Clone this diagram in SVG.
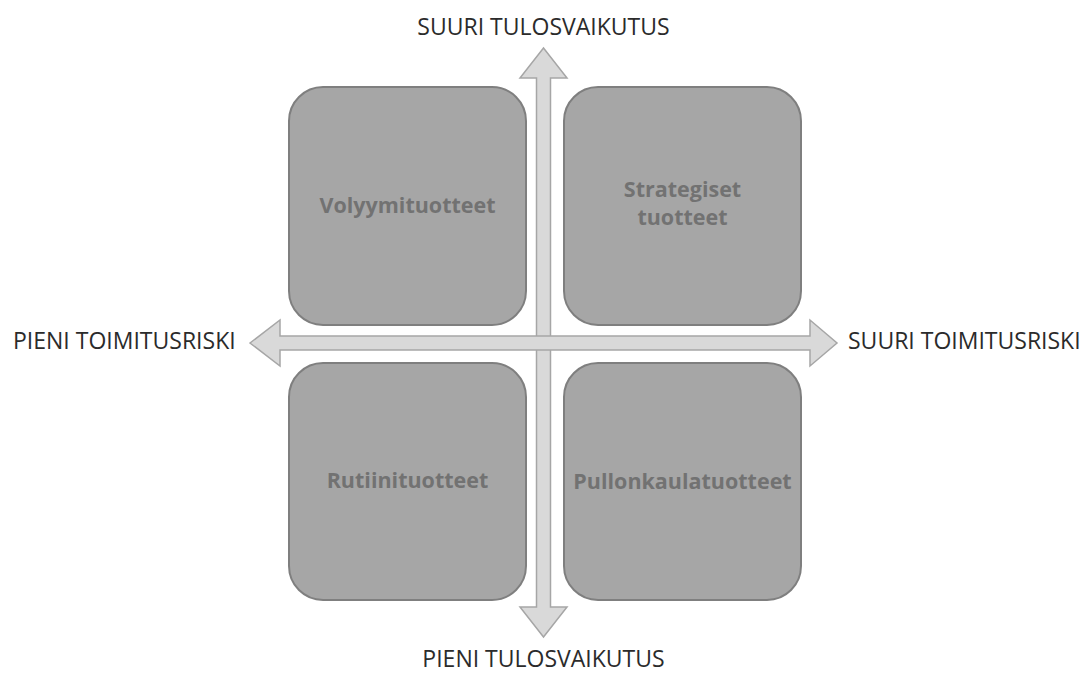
<svg xmlns="http://www.w3.org/2000/svg" width="1090" height="675" viewBox="0 0 1090 675">
  <style>
    .axis-label { font-family: "Open Sans", "Liberation Sans", sans-serif; font-size: 23px; fill: #2b2b2b; }
    .box { fill: #a6a6a6; stroke: #7f7f7f; stroke-width: 2; }
    .box-label { font-family: "Open Sans", "Liberation Sans", sans-serif; font-size: 21.5px; font-weight: bold; fill: #727272; text-anchor: middle; }
    .arrow { fill: #d9d9d9; stroke: #a6a6a6; stroke-width: 1.5; stroke-linejoin: miter; }
  </style>
  <rect width="1090" height="675" fill="#ffffff"/>

  <!-- axes: double-headed block arrows -->
  <g id="connectors">
    <path class="arrow" d="M543.5,48 L567,78 L550.5,78 L550.5,607 L567,607 L543.5,637 L520,607 L536.5,607 L536.5,78 L520,78 Z"/>
    <path class="arrow" d="M250,343 L280,320 L280,336 L536.5,336 L550.5,336 L810,336 L810,320 L837,343 L810,366 L810,350 L550.5,350 L536.5,350 L280,350 L280,366 Z"/>
  </g>

  <g id="volyymituotteet">
    <rect class="box" x="289" y="87" width="237" height="238" rx="34"/>
    <text class="box-label" x="407.5" y="213">Volyymituotteet</text>
  </g>
  <g id="strategiset">
    <rect class="box" x="564" y="87" width="237" height="238" rx="34"/>
    <text class="box-label" x="682.5" y="197">Strategiset</text>
    <text class="box-label" x="682.5" y="225">tuotteet</text>
  </g>
  <g id="rutiinituotteet">
    <rect class="box" x="289" y="363" width="237" height="237" rx="34"/>
    <text class="box-label" x="407.5" y="488">Rutiinituotteet</text>
  </g>
  <g id="pullonkaulatuotteet">
    <rect class="box" x="564" y="363" width="237" height="237" rx="34"/>
    <text class="box-label" x="682.5" y="489">Pullonkaulatuotteet</text>
  </g>

  <g id="axis-labels">
    <text class="axis-label" x="543.5" y="35" text-anchor="middle">SUURI TULOSVAIKUTUS</text>
    <text class="axis-label" x="543.5" y="667" text-anchor="middle">PIENI TULOSVAIKUTUS</text>
    <text class="axis-label" x="13" y="349">PIENI TOIMITUSRISKI</text>
    <text class="axis-label" x="848" y="349">SUURI TOIMITUSRISKI</text>
  </g>
</svg>
